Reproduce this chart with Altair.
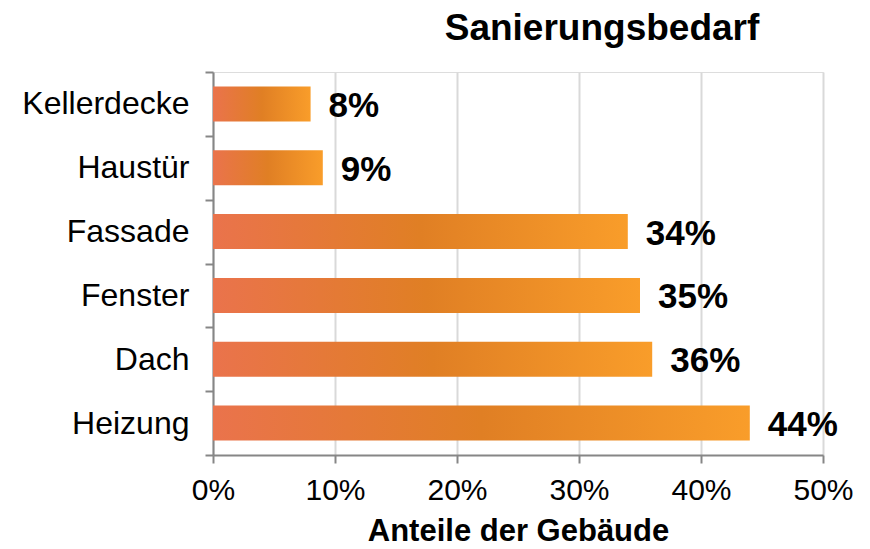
import altair as alt
import pandas as pd

categories = ["Kellerdecke", "Haustür", "Fassade", "Fenster", "Dach", "Heizung"]
values = [8, 9, 34, 35, 36, 44]
x_ticks = [0, 10, 20, 30, 40, 50]

df = pd.DataFrame({"cat": categories, "val": values})
df["label"] = df["val"].astype(str) + "%"

FONT = "Liberation Sans"

grad = alt.Gradient(
    gradient="linear",
    stops=[
        alt.GradientStop(color="#EA734C", offset=0),
        alt.GradientStop(color="#E07F24", offset=0.5),
        alt.GradientStop(color="#F99D2A", offset=1),
    ],
    x1=0, x2=1, y1=0, y2=0,
)

y_enc = alt.Y(
    "cat:N",
    sort=categories,
    title=None,
    scale=alt.Scale(paddingInner=0, paddingOuter=0),
    axis=alt.Axis(
        tickBand="extent",
        domainColor="#868686",
        domainWidth=2,
        tickColor="#868686",
        tickWidth=2,
        tickSize=8,
        labelFontSize=32,
        labelFont=FONT,
        labelColor="#000000",
        labelPadding=16,
        grid=False,
    ),
)

x_enc = alt.X(
    "val:Q",
    scale=alt.Scale(domain=[0, 50]),
    title="Anteile der Gebäude",
    axis=alt.Axis(
        values=x_ticks,
        labelExpr="datum.value + '%'",
        labelFlush=False,
        domainColor="#868686",
        domainWidth=2,
        tickColor="#868686",
        tickWidth=2,
        tickSize=8,
        labelFontSize=30,
        labelFont=FONT,
        labelColor="#000000",
        labelPadding=12,
        titleFontSize=31,
        titleFont=FONT,
        titleFontWeight="bold",
        titleColor="#000000",
        titlePadding=11,
        grid=True,
        gridColor="#D9D9D9",
        gridWidth=2,
    ),
)

bars = alt.Chart(df).mark_bar(size=35, fill=grad).encode(x=x_enc, y=y_enc)

text = alt.Chart(df).mark_text(
    align="left", baseline="middle", dx=18, dy=2,
    fontSize=35, fontWeight="bold", font=FONT, color="#000000",
).encode(x="val:Q", y=alt.Y("cat:N", sort=categories), text="label:N")

chart = (
    alt.layer(bars, text)
    .properties(
        width=610,
        height=383,
        autosize=alt.AutoSizeParams(type="none"),
        padding={"left": 205, "top": 64, "right": 30, "bottom": 92},
        title=alt.TitleParams(
            "Sanierungsbedarf",
            fontSize=37,
            font=FONT,
            fontWeight="bold",
            color="#000000",
            dx=84,
            offset=8,
        ),
    )
    .configure_view(stroke=None)
    .configure(background="white")
)

chart.save("out.html", embed_options={"renderer": "svg", "actions": False})
